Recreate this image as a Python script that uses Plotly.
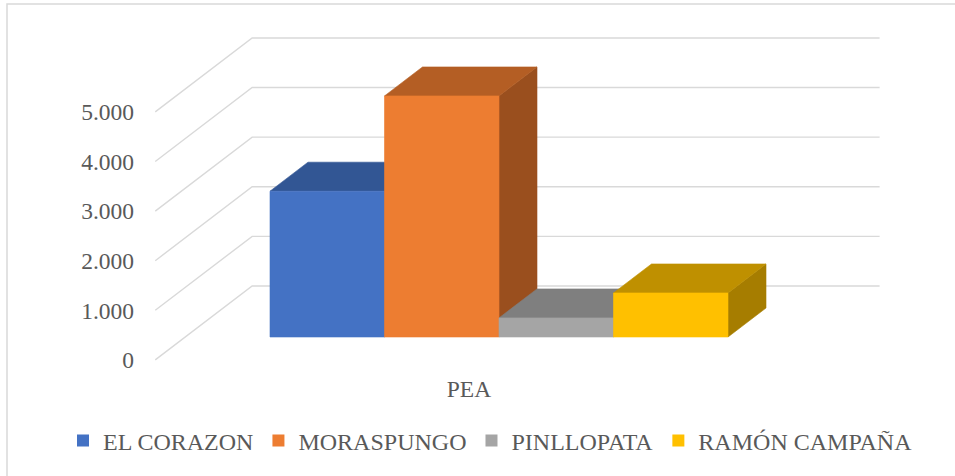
import plotly.graph_objects as go

# --- data -------------------------------------------------------------
parishes = ["EL CORAZON", "MORASPUNGO", "PINLLOPATA", "RAMÓN CAMPAÑA"]
pea_values = [2940, 4860, 385, 888]
category_label = "PEA"
tick_values = [0, 1000, 2000, 3000, 4000, 5000]
tick_labels = ["0", "1.000", "2.000", "3.000", "4.000", "5.000"]

front_colors = ["#4472C4", "#ED7D31", "#A5A5A5", "#FFC000"]
top_colors = ["#325694", "#B45E24", "#7F7F7F", "#BF9000"]
side_colors = ["#2A4A80", "#9A4F1E", "#6E6E6E", "#A67D00"]

# --- layout geometry (pixels) ------------------------------------------
W, H = 955, 476
PLOT_L, PLOT_R, PLOT_T, PLOT_B = 140, 900, 20, 372
X0_PX = 270.0        # left edge of the first bar's front face
UNIT_PX = 114.5      # width of one bar
BASE_PX = 337.0      # baseline of bars' front faces
PX_PER_VAL = 0.0496  # vertical pixels per unit of value

# oblique depth projection: one bar-depth moves up/right by this much
DEPTH_DX = 38.0 / UNIT_PX
DEPTH_DY = 29.0 / PX_PER_VAL
FLOOR_FRONT = -0.79  # depth of the floor's front edge
FLOOR_BACK = 1.76    # depth of the back wall
GAP = 0.74           # side gap between wall edge and outer bars

x_range = [(PLOT_L - X0_PX) / UNIT_PX, (PLOT_R - X0_PX) / UNIT_PX]
y_range = [(BASE_PX - PLOT_B) / PX_PER_VAL, (BASE_PX - PLOT_T) / PX_PER_VAL]


def px_to_paper(px, py):
    return ((px - PLOT_L) / (PLOT_R - PLOT_L), (PLOT_B - py) / (PLOT_B - PLOT_T))


def project(x, y, depth):
    return x + depth * DEPTH_DX, y + depth * DEPTH_DY


fig = go.Figure()

# --- walls: oblique gridlines on the side and back wall -----------------
n = len(pea_values)
gx, gy = [], []
for v in tick_values:
    fx, fy = project(-GAP, v, FLOOR_FRONT)
    bx, by = project(-GAP, v, FLOOR_BACK)
    rx, ry = project(n + GAP, v, FLOOR_BACK)
    gx += [fx, bx, rx, None]
    gy += [fy, by, ry, None]
fig.add_trace(go.Scatter(x=gx, y=gy, mode="lines",
                         line=dict(color="#D9D9D9", width=1.4),
                         hoverinfo="skip", showlegend=False))

# --- 3D bars: side, top and front faces, drawn left to right -------------
for i, (name, v) in enumerate(zip(parishes, pea_values)):
    x0, x1 = i, i + 1
    faces = []
    # right side face
    sx, sy = zip(project(x1, 0, 0), project(x1, v, 0),
                 project(x1, v, 1), project(x1, 0, 1), project(x1, 0, 0))
    faces.append((sx, sy, side_colors[i]))
    # top face
    tx, ty = zip(project(x0, v, 0), project(x1, v, 0),
                 project(x1, v, 1), project(x0, v, 1), project(x0, v, 0))
    faces.append((tx, ty, top_colors[i]))
    # front face
    fx, fy = zip(project(x0, 0, 0), project(x1, 0, 0),
                 project(x1, v, 0), project(x0, v, 0), project(x0, 0, 0))
    faces.append((fx, fy, front_colors[i]))
    for xs, ys, c in faces:
        fig.add_trace(go.Scatter(x=list(xs), y=list(ys), mode="lines",
                                 fill="toself", fillcolor=c,
                                 line=dict(color=c, width=0.6),
                                 legendgroup=name, showlegend=False,
                                 hovertemplate=f"{name}: {v}<extra></extra>"))
    # legend entry
    fig.add_trace(go.Scatter(x=[None], y=[None], mode="markers", name=name,
                             legendgroup=name,
                             marker=dict(symbol="square", size=12,
                                         color=front_colors[i])))

FONT = "Liberation Serif"
TEXT_COLOR = "#595959"
TEXT_FONT = dict(family=FONT, size=23.5, color=TEXT_COLOR)
LEGEND_FONT = dict(family=FONT, size=24, color=TEXT_COLOR)

b0 = px_to_paper(7, 4)
b1 = px_to_paper(W + 6, H + 6)
leg_x, leg_y = px_to_paper(63, 441)

fig.update_layout(
    width=W, height=H,
    margin=dict(l=PLOT_L, r=W - PLOT_R, t=PLOT_T, b=H - PLOT_B, autoexpand=False),
    paper_bgcolor="white", plot_bgcolor="white",
    font=TEXT_FONT,
    xaxis=dict(range=x_range, showgrid=False, zeroline=False, showline=False,
               tickmode="array",
               tickvals=[n / 2 + FLOOR_FRONT * DEPTH_DX],
               ticktext=[category_label], ticks="", tickfont=TEXT_FONT,
               fixedrange=True),
    yaxis=dict(range=y_range, showgrid=False, zeroline=False, showline=False,
               tickmode="array",
               tickvals=[t + FLOOR_FRONT * DEPTH_DY for t in tick_values],
               ticktext=tick_labels, ticks="", tickfont=TEXT_FONT,
               ticklabelstandoff=5, fixedrange=True),
    legend=dict(orientation="h", x=leg_x, y=leg_y, xanchor="left", yanchor="middle",
                font=LEGEND_FONT, bgcolor="rgba(0,0,0,0)", itemwidth=30,
                tracegroupgap=0),
    shapes=[dict(type="rect", xref="paper", yref="paper",
                 x0=b0[0], y0=b1[1], x1=b1[0], y1=b0[1],
                 line=dict(color="#D9D9D9", width=1.5), layer="below")],
    showlegend=True,
)

fig.write_html("out.html")
